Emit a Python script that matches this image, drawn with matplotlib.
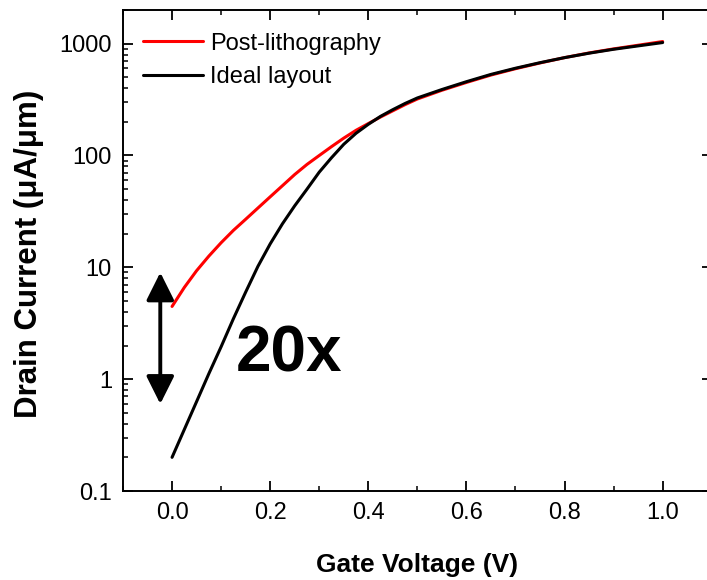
import matplotlib
matplotlib.use("Agg")
import matplotlib.pyplot as plt
from matplotlib.ticker import FixedLocator, NullFormatter, FuncFormatter

plt.rcParams['font.family'] = ['Liberation Sans', 'DejaVu Sans']

# --- Data ---
gate_v = [0.000, 0.025, 0.050, 0.075, 0.100, 0.125, 0.150, 0.175, 0.200, 0.225,
          0.250, 0.275, 0.300, 0.325, 0.350, 0.375, 0.400, 0.425, 0.450, 0.475,
          0.500, 0.55, 0.60, 0.65, 0.70, 0.75, 0.80, 0.85, 0.90, 0.95, 1.00]
ideal_i = [0.20, 0.355, 0.63, 1.12, 1.95, 3.47, 6.0, 10.2, 16.2, 24.5,
           35.5, 50, 71, 95.5, 126, 158, 190, 224, 257, 292,
           327, 389, 457, 531, 603, 676, 750, 822, 891, 955, 1023]
litho_i = [4.47, 6.61, 9.33, 12.6, 16.6, 21.4, 26.9, 33.9, 42.7, 53.7,
           67.6, 83.2, 100, 120, 143, 168, 193, 221, 251, 285,
           320, 383, 450, 524, 597, 672, 750, 826, 898, 968, 1045]

x_ticks = [0.0, 0.2, 0.4, 0.6, 0.8, 1.0]
x_minor = [-0.1, 0.1, 0.3, 0.5, 0.7, 0.9, 1.1]
y_ticks = [0.1, 1, 10, 100, 1000]
y_minor = [m * d for d in (0.1, 1, 10, 100, 1000) for m in range(2, 10)]

arrow_x = -0.024
arrow_lo, arrow_hi = 0.6, 9.0
ratio_label = "20x"

fig = plt.figure(figsize=(7.07, 5.80), dpi=100)
ax = fig.add_axes([123 / 707, 89 / 580, 588.7 / 707, 481 / 580])

ax.plot(gate_v, litho_i, color='#ff0000', lw=2.2, label='Post-lithography', solid_capstyle='round')
ax.plot(gate_v, ideal_i, color='black', lw=2.2, label='Ideal layout', solid_capstyle='round')

ax.set_yscale('log')
ax.set_xlim(-0.1, 1.1)
ax.set_ylim(0.1, 2000)

ax.xaxis.set_major_locator(FixedLocator(x_ticks))
ax.xaxis.set_minor_locator(FixedLocator(x_minor))
ax.xaxis.set_major_formatter(FuncFormatter(lambda v, p: f"{v:.1f}"))
ax.yaxis.set_major_locator(FixedLocator(y_ticks))
ax.yaxis.set_minor_locator(FixedLocator(y_minor))
ax.yaxis.set_major_formatter(FuncFormatter(lambda v, p: f"{v:g}"))
ax.yaxis.set_minor_formatter(NullFormatter())

ax.tick_params(which='both', direction='in', top=True, right=True, labelsize=17)
ax.tick_params(which='major', length=7.2, width=1.3, pad=8)
ax.tick_params(which='minor', length=3.6, width=1.1)
for s in ax.spines.values():
    s.set_linewidth(1.4)

ax.set_xlabel("Gate Voltage (V)", fontsize=19, fontweight='bold', labelpad=21)
ax.set_ylabel("Drain Current (\u03bcA/\u03bcm)", fontsize=22.5, fontweight='bold')
ax.yaxis.set_label_coords(-0.135, 0.493)

# 20x arrow and label
ax.annotate("", xy=(arrow_x, arrow_hi), xytext=(arrow_x, arrow_lo),
            arrowprops=dict(arrowstyle='<|-|>,head_length=1.7,head_width=0.85',
                            mutation_scale=10, lw=2.8, color='black',
                            shrinkA=0, shrinkB=0))
ax.text(0.238, 1.67, ratio_label, fontsize=46, fontweight='bold',
        ha='center', va='center')

ax.legend(loc='upper left', bbox_to_anchor=(0.034, 0.953), frameon=False,
          fontsize=17, handlelength=2.55, handletextpad=0.3,
          labelspacing=0.5, borderpad=0, borderaxespad=0)

fig.savefig("out.png", dpi=100)
